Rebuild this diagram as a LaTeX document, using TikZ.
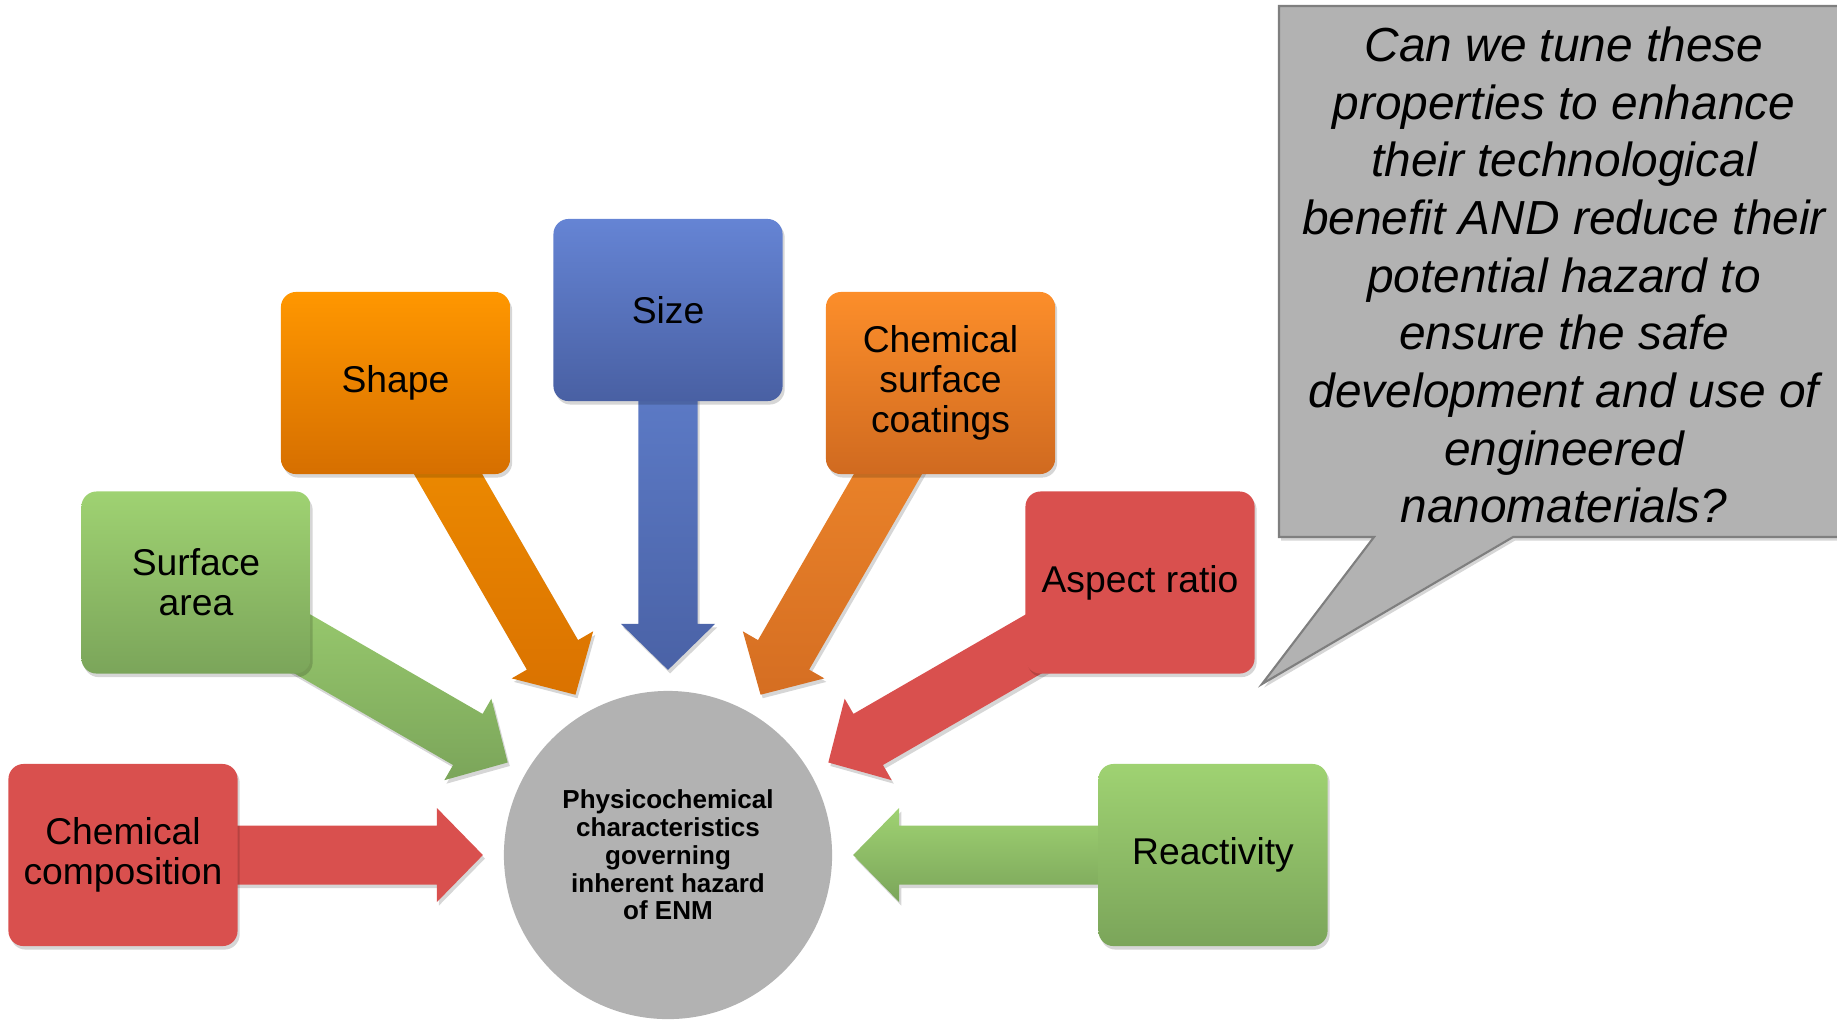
\documentclass[tikz,border=0pt]{standalone}
\usepackage{fontspec}
\setmainfont{Liberation Sans}
\usetikzlibrary{calc,shadows,backgrounds}

\definecolor{redc}{HTML}{D9504E}
\definecolor{greenT}{HTML}{9FD272}
\definecolor{greenB}{HTML}{7BA55A}
\definecolor{shapeT}{HTML}{FF9700}
\definecolor{shapeB}{HTML}{D66F00}
\definecolor{blueT}{HTML}{6584D4}
\definecolor{blueB}{HTML}{4960A3}
\definecolor{coatT}{HTML}{FC8E2A}
\definecolor{coatB}{HTML}{D06A20}
\definecolor{hubgray}{HTML}{B2B2B2}
\definecolor{callline}{HTML}{7F7F7F}
\definecolor{ashapeT}{HTML}{F39200}
\definecolor{ashapeB}{HTML}{DA7200}
\definecolor{asizeT}{HTML}{6181CF}
\definecolor{asizeB}{HTML}{4A62A6}
\definecolor{acoatT}{HTML}{F28A2C}
\definecolor{acoatB}{HTML}{D56E22}

\newcommand\blockarrow[3]{%
  \path[#3] let \p1=(#1), \p2=(#2), \n1={atan2(\y1-\y2,\x1-\x2)} in
    ($(\p2)+(\n1:1.85cm)$)
 -- ($(\p2)+(\n1:2.31cm)+(\n1-90:0.47cm)$)
 -- ($(\p2)+(\n1:2.31cm)+(\n1-90:0.295cm)$)
 -- ($(\p1)+(\n1-90:0.295cm)$)
 -- ($(\p1)+(\n1+90:0.295cm)$)
 -- ($(\p2)+(\n1:2.31cm)+(\n1+90:0.295cm)$)
 -- ($(\p2)+(\n1:2.31cm)+(\n1+90:0.47cm)$)
 -- cycle;}

\begin{document}
\begin{tikzpicture}[x=0.01cm,y=-0.01cm,
  softshadow/.style={drop shadow={shadow xshift=0.6pt, shadow yshift=-1pt, opacity=0.16, fill=black}},
  box/.style={rounded corners=4.3pt, minimum width=2.29cm, minimum height=1.82cm,
    align=center, inner sep=0pt, font=\fontsize{10.6}{11.4}\selectfont, softshadow},
  redbox/.style={box, fill=redc},
  greenbox/.style={box, top color=greenT, bottom color=greenB},
  hubnode/.style={circle, fill=hubgray, minimum size=3.28cm, inner sep=0pt, align=center,
    font=\bfseries\fontsize{7.4}{7.9}\selectfont},
  arrowshade/.style 2 args={shade, top color=#1, bottom color=#2, softshadow},
  arrowflat/.style={fill=#1, softshadow}
]
\useasboundingbox (0,0) rectangle (1837,1020);

% hub
\node[hubnode] (hub) at (668,855) {Physicochemical\\characteristics\\governing\\inherent hazard\\of ENM};

% boxes
\node[redbox] (comp) at (123,855) {Chemical\\composition};
\node[greenbox] (surf) at (196,582.5) {Surface\\area};
\node[box, top color=shapeT, bottom color=shapeB] (shape) at (395.5,383) {Shape};
\node[box, top color=blueT, bottom color=blueB] (size) at (668,310) {Size};
\node[box, top color=coatT, bottom color=coatB] (coat) at (940.5,383) {Chemical\\surface\\coatings};
\node[redbox] (asp) at (1140,582.5) {Aspect ratio};
\node[greenbox] (react) at (1213,855) {Reactivity};

% arrows behind the boxes
\begin{scope}[on background layer]
\blockarrow{comp}{hub}{arrowflat=redc}
\blockarrow{surf}{hub}{arrowshade={greenT}{greenB}}
\blockarrow{shape}{hub}{arrowshade={ashapeT}{ashapeB}}
\blockarrow{size}{hub}{arrowshade={asizeT}{asizeB}}
\blockarrow{coat}{hub}{arrowshade={acoatT}{acoatB}}
\blockarrow{asp}{hub}{arrowflat=redc}
\blockarrow{react}{hub}{arrowshade={greenT}{greenB}}
\end{scope}

% callout
\draw[fill=hubgray, draw=callline, line width=0.6pt, softshadow]
  (1279,6) -- (1850,6) -- (1850,537) -- (1513,537) -- (1262,684) -- (1374,537) -- (1279,537) -- cycle;
\node[align=center, inner sep=0pt, font=\itshape\fontsize{13.6}{16.4}\selectfont] (question) at (1564,275)
  {Can we tune these\\properties to enhance\\their technological\\benefit AND reduce their\\potential hazard to\\ensure the safe\\development and use of\\engineered\\nanomaterials?};
\end{tikzpicture}
\end{document}
